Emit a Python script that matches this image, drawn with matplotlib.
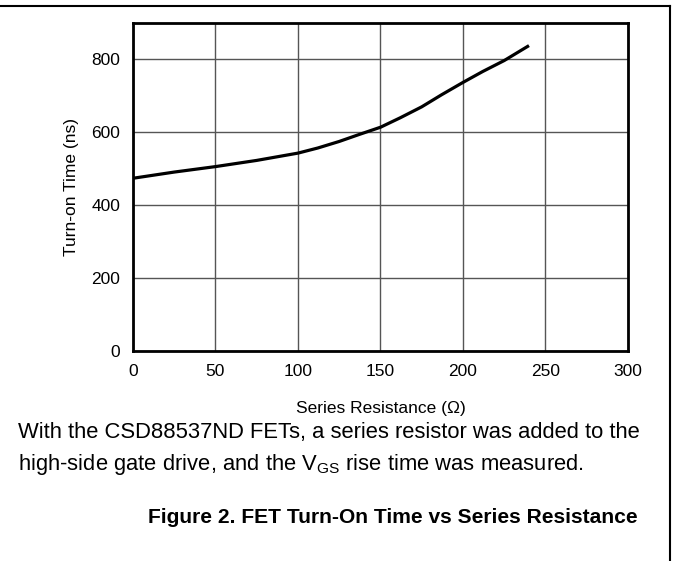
import matplotlib
matplotlib.use("Agg")
import matplotlib.pyplot as plt
from matplotlib.lines import Line2D

plt.rcParams['font.family'] = ['Liberation Sans', 'DejaVu Sans']

# data
resistance = [0, 25, 50, 75, 100, 112, 125, 137, 150, 162, 175, 187, 200, 212, 225, 240]
turn_on_ns = [474, 491, 506, 523, 543, 557, 575, 594, 614, 640, 670, 703, 737, 767, 797, 838]

x_ticks = [0, 50, 100, 150, 200, 250, 300]
y_ticks = [0, 200, 400, 600, 800]

fig = plt.figure(figsize=(6.73, 5.61), dpi=100)
ax = fig.add_axes([0.1976, 0.3743, 0.7355, 0.5847])

ax.plot(resistance, turn_on_ns, color='black', lw=2.3, solid_capstyle='butt',
        solid_joinstyle='round')

ax.set_xlim(0, 300)
ax.set_ylim(0, 900)
ax.set_xticks(x_ticks)
ax.set_yticks(y_ticks)
ax.tick_params(length=0, labelsize=12.5, pad=9)
ax.grid(True, color='#555555', lw=1)
ax.set_axisbelow(True)
for s in ax.spines.values():
    s.set_linewidth(2)
    s.set_color('black')

ax.set_xlabel('Series Resistance (\u03a9)', fontsize=12.5, labelpad=16)
ax.set_ylabel('Turn-on Time (ns)', fontsize=12.5, labelpad=9)

# caption text below the chart
fig.text(0.027, 0.229, 'With the CSD88537ND FETs, a series resistor was added to the',
         fontsize=15.8, ha='left', va='center')
fig.text(0.027, 0.172, 'high-side gate drive, and the V$_{\\mathregular{GS}}$ rise time was measured.',
         fontsize=15.8, ha='left', va='center')
fig.text(0.584, 0.077, 'Figure 2. FET Turn-On Time vs Series Resistance',
         fontsize=15.1, fontweight='bold', ha='center', va='center')

# page border lines (top and right)
fig.add_artist(Line2D([0, 0.996], [0.989, 0.989], color='black', lw=1.5,
                      transform=fig.transFigure))
fig.add_artist(Line2D([0.996, 0.996], [0.989, 0], color='black', lw=1.5,
                      transform=fig.transFigure))

fig.savefig('out.png', dpi=100)
